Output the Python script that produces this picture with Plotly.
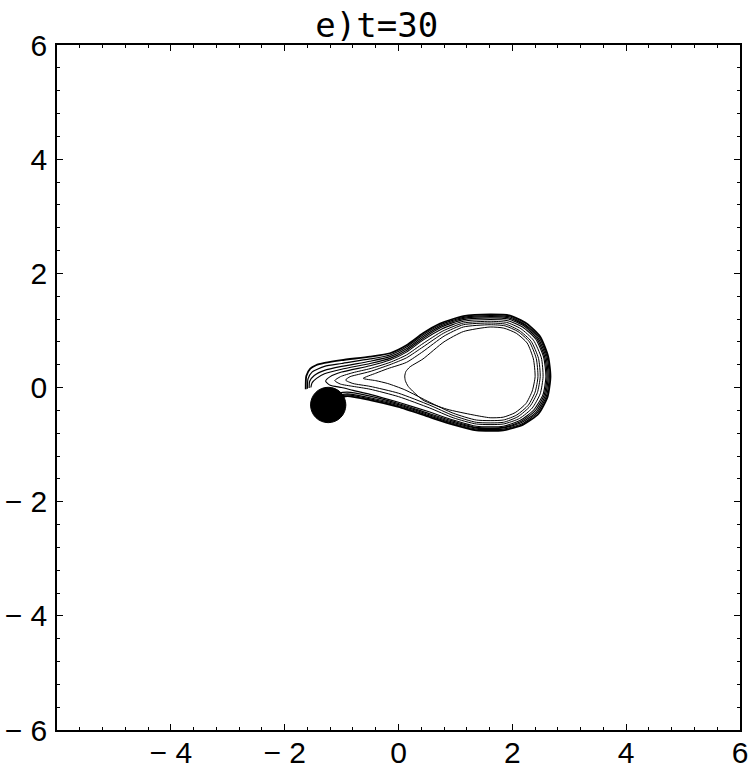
import plotly.graph_objects as go

# ---- data (data units) ----
title_text = "e)t=30"
x_tick_vals = [-4, -2, 0, 2, 4, 6]
x_tick_text = ["\u2212 4", "\u2212 2", "0", "2", "4", "6"]
y_tick_vals = [-6, -4, -2, 0, 2, 4, 6]
y_tick_text = ["\u2212 6", "\u2212 4", "\u2212 2", "0", "2", "4", "6"]

# black disc
disc_center_x = -1.235
disc_center_y = -0.306
disc_radius = 0.31

# contour lines (outermost first)
contour_0 = [(-1.63,-0.03),(-1.62,0.20),(-1.55,0.33),(-1.45,0.39),(-1.30,0.43),(-1.00,0.48),(-0.50,0.54),(-0.15,0.60),(0.14,0.74),(0.43,0.95),(0.73,1.12),(1.14,1.25),(1.61,1.28),(1.96,1.26),(2.25,1.12),(2.49,0.89),(2.63,0.54),(2.67,0.19),(2.62,-0.16),(2.46,-0.46),(2.19,-0.65),(1.84,-0.75),(1.37,-0.75),(0.96,-0.65),(0.55,-0.52),(0.00,-0.34),(-0.50,-0.22),(-0.90,-0.15),(-1.10,-0.20)]
contour_1 = [(-1.60,-0.02),(-1.59,0.15),(-1.52,0.27),(-1.30,0.37),(-1.00,0.42),(-0.50,0.50),(-0.15,0.57),(0.14,0.71),(0.43,0.92),(0.74,1.10),(1.14,1.23),(1.61,1.26),(1.95,1.24),(2.23,1.10),(2.47,0.88),(2.61,0.54),(2.65,0.19),(2.60,-0.15),(2.44,-0.44),(2.18,-0.63),(1.84,-0.73),(1.37,-0.73),(0.96,-0.63),(0.55,-0.50),(0.00,-0.32),(-0.50,-0.20),(-0.90,-0.13),(-1.10,-0.17)]
contour_2 = [(-1.57,-0.01),(-1.56,0.11),(-1.48,0.21),(-1.30,0.30),(-1.00,0.37),(-0.50,0.46),(-0.15,0.54),(0.14,0.68),(0.43,0.89),(0.75,1.08),(1.14,1.21),(1.61,1.24),(1.94,1.22),(2.22,1.09),(2.45,0.87),(2.59,0.54),(2.63,0.19),(2.58,-0.14),(2.42,-0.43),(2.17,-0.61),(1.84,-0.71),(1.37,-0.71),(0.96,-0.61),(0.55,-0.48),(0.00,-0.30),(-0.50,-0.18),(-0.90,-0.11),(-1.10,-0.14)]
contour_3 = [(-1.54,0.00),(-1.52,0.08),(-1.44,0.16),(-1.30,0.24),(-1.00,0.32),(-0.50,0.42),(-0.15,0.51),(0.14,0.65),(0.43,0.86),(0.76,1.06),(1.14,1.19),(1.61,1.22),(1.93,1.20),(2.20,1.08),(2.43,0.86),(2.57,0.53),(2.61,0.19),(2.56,-0.13),(2.40,-0.41),(2.16,-0.59),(1.84,-0.70),(1.37,-0.70),(0.96,-0.59),(0.55,-0.46),(0.00,-0.28),(-0.50,-0.15),(-0.90,-0.08),(-1.10,-0.10)]
contour_4 = [(-1.28,0.11),(-1.20,0.19),(-1.00,0.27),(-0.50,0.38),(-0.15,0.48),(0.14,0.62),(0.43,0.83),(0.77,1.03),(1.14,1.16),(1.61,1.19),(1.92,1.17),(2.18,1.06),(2.41,0.85),(2.55,0.53),(2.59,0.19),(2.54,-0.12),(2.38,-0.39),(2.15,-0.57),(1.84,-0.68),(1.37,-0.68),(0.96,-0.57),(0.55,-0.43),(0.00,-0.26),(-0.50,-0.12),(-0.80,-0.05),(-1.00,0.00),(-1.20,0.04),(-1.28,0.11)]
contour_5 = [(-1.12,0.12),(-1.02,0.19),(-0.80,0.26),(-0.50,0.33),(-0.15,0.44),(0.14,0.57),(0.43,0.77),(0.78,0.99),(1.14,1.13),(1.61,1.16),(1.90,1.14),(2.15,1.03),(2.37,0.83),(2.51,0.52),(2.54,0.19),(2.49,-0.11),(2.35,-0.36),(2.13,-0.54),(1.84,-0.64),(1.37,-0.64),(0.96,-0.53),(0.55,-0.36),(0.00,-0.16),(-0.50,-0.03),(-0.80,0.02),(-1.02,0.06),(-1.12,0.12)]
contour_6 = [(-0.93,0.13),(-0.85,0.19),(-0.70,0.23),(-0.50,0.28),(-0.15,0.40),(0.14,0.52),(0.43,0.71),(0.79,0.95),(1.14,1.10),(1.61,1.13),(1.88,1.11),(2.12,1.00),(2.33,0.81),(2.46,0.51),(2.49,0.19),(2.44,-0.09),(2.31,-0.33),(2.10,-0.51),(1.84,-0.61),(1.37,-0.61),(0.96,-0.49),(0.55,-0.31),(0.00,-0.10),(-0.50,0.02),(-0.80,0.07),(-0.93,0.13)]
contour_7 = [(-0.62,0.16),(-0.40,0.25),(-0.19,0.33),(0.14,0.44),(0.43,0.63),(0.80,0.90),(1.14,1.06),(1.61,1.10),(1.87,1.08),(2.10,0.98),(2.30,0.80),(2.42,0.51),(2.45,0.19),(2.40,-0.08),(2.28,-0.31),(2.08,-0.48),(1.84,-0.57),(1.37,-0.57),(0.96,-0.45),(0.55,-0.26),(0.11,-0.04),(-0.19,0.07),(-0.40,0.12),(-0.62,0.16)]
contour_8 = [(0.17,0.02),(0.12,0.12),(0.11,0.20),(0.13,0.28),(0.20,0.36),(0.43,0.50),(0.80,0.80),(1.14,0.98),(1.61,1.06),(1.85,1.04),(2.07,0.95),(2.26,0.78),(2.37,0.50),(2.40,0.19),(2.35,-0.06),(2.24,-0.28),(2.05,-0.44),(1.84,-0.52),(1.61,-0.53),(1.31,-0.48),(0.85,-0.38),(0.43,-0.22),(0.17,0.02)]

contours = [contour_0, contour_1, contour_2, contour_3, contour_4,
            contour_5, contour_6, contour_7, contour_8]
line_widths = [1.8, 1.2, 1.2, 1.2, 1.1, 1.0, 1.0, 1.0, 1.0]

fig = go.Figure()
for pts, w in zip(contours, line_widths):
    fig.add_trace(go.Scatter(
        x=[p[0] for p in pts], y=[p[1] for p in pts],
        mode="lines", line=dict(color="black", width=w, shape="spline", smoothing=0.6),
        showlegend=False, hoverinfo="skip"))

fig.add_shape(type="circle", xref="x", yref="y",
              x0=disc_center_x - disc_radius, x1=disc_center_x + disc_radius,
              y0=disc_center_y - disc_radius, y1=disc_center_y + disc_radius,
              fillcolor="black", line=dict(color="black", width=1), layer="above")

axis_common = dict(
    range=[-6, 6], showgrid=False, zeroline=False, automargin=False,
    showline=True, linecolor="black", linewidth=1.5, mirror="ticks",
    ticks="inside", ticklen=6, tickwidth=1, tickcolor="black",
    minor=dict(dtick=0.4, tick0=-6, ticks="inside", ticklen=3, tickwidth=1, tickcolor="black"),
    tickfont=dict(family="Liberation Sans, Arial, sans-serif", size=30, color="black"),
    fixedrange=True,
)

fig.update_xaxes(**axis_common, tickvals=x_tick_vals, ticktext=x_tick_text, ticklabelstandoff=-5)
fig.update_yaxes(**axis_common, tickvals=y_tick_vals, ticktext=y_tick_text, ticklabelstandoff=2)

fig.update_layout(
    width=749, height=772,
    margin=dict(l=57, r=9, t=45, b=42),
    paper_bgcolor="white", plot_bgcolor="white",
    title=dict(text=title_text, x=0.503, xanchor="center", y=0.967, yanchor="middle",
               font=dict(family="DejaVu Sans Mono, monospace", size=34, color="black")),
)

fig.write_html("out.html")
